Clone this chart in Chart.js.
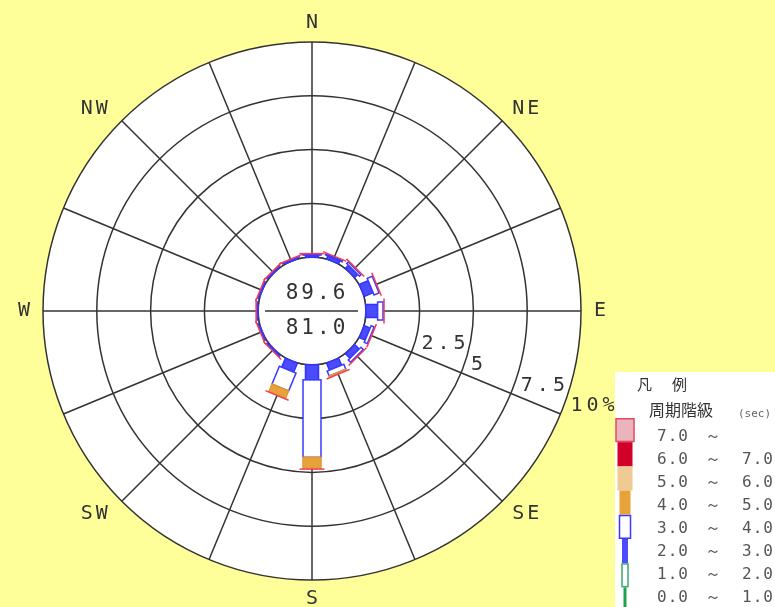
<!DOCTYPE html>
<html>
<head>
<meta charset="utf-8">
<script src="https://cdn.jsdelivr.net/npm/chart.js@4/dist/chart.umd.min.js"></script>
<style>
  html, body { margin: 0; padding: 0; background: #ffff99; }
  canvas { display: block; }
</style>
</head>
<body>
<canvas id="rose" width="775" height="607"></canvas>
<script>
// Sixteen compass directions, clockwise from north
const directions = ['N','NNE','NE','ENE','E','ESE','SE','SSE','S','SSW','SW','WSW','W','WNW','NW','NNW'];
const axisLabels = ['N','','NE','','E','','SE','','S','','SW','','W','','NW',''];

// Frequency (%) of each wave-period class per direction
const period0to1 = [0,0,0,0,0,0,0,0,0,0,0,0,0,0,0,0];
const period1to2 = [0,0,0,0,0,0,0,0,0,0,0,0,0,0,0,0];
const period2to3 = [0.10,0.15,0.20,0.45,0.55,0.30,0.30,0.35,0.70,0.45,0.04,0.04,0.04,0.04,0.04,0.05];
const period3to4 = [0.02,0.05,0.10,0.25,0.25,0.15,0.15,0.25,3.60,0.90,0.02,0.01,0.01,0.01,0.01,0.01];
const period4to5 = [0,0,0,0,0,0,0,0.03,0.50,0.35,0,0,0,0,0,0];
const period5to6 = [0,0,0,0,0,0,0,0,0,0,0,0,0,0,0,0];
const period6to7 = [0,0,0,0,0,0,0,0,0,0,0,0,0,0,0,0];
const period7up  = [0,0,0,0,0,0,0,0,0,0,0,0,0,0,0,0];

// Period class bounds (sec) shown in the legend
const classLow  = ['0.0','1.0','2.0','3.0','4.0','5.0','6.0','7.0'];
const classHigh = ['1.0','2.0','3.0','4.0','5.0','6.0','7.0',''];

// Ring labels (percent)
const ringValues = [2.5, 5, 7.5, 10];
const ringLabels = ['2.5', '5', '7.5', '10%'];

// Figures printed in the calm circle
const centerUpper = '89.6';
const centerLower = '81.0';

const classStyles = [
  { fill: '#1ea24e', stroke: '#1ea24e', width: 4,  legendW: 3  },
  { fill: '#ffffff', stroke: '#3aaa70', width: 9,  legendW: 6  },
  { fill: '#4b4bff', stroke: '#3333ff', width: 13, legendW: 6  },
  { fill: '#ffffff', stroke: '#3a3aff', width: 18, legendW: 11 },
  { fill: '#e8a23a', stroke: '#e39a32', width: 18, legendW: 11 },
  { fill: '#efca92', stroke: '#e8c088', width: 24, legendW: 15 },
  { fill: '#d0002a', stroke: '#c80028', width: 24, legendW: 15 },
  { fill: '#eab4bc', stroke: '#e04a60', width: 28, legendW: 18 }
];
const classData = [period0to1, period1to2, period2to3, period3to4, period4to5, period5to6, period6to7, period7up];

const MONO = '"DejaVu Sans Mono", monospace';
const CJK = '"Noto Sans CJK JP", sans-serif';

const rosePlugin = {
  id: 'rosePlugin',
  beforeDraw(chart) {
    const s = chart.scales.r, ctx = chart.ctx;
    ctx.save();
    ctx.fillStyle = '#ffffff';
    ctx.beginPath();
    ctx.arc(s.xCenter, s.yCenter, s.getDistanceFromCenterForValue(s.max), 0, Math.PI * 2);
    ctx.fill();
    ctx.restore();
  },
  afterDraw(chart) {
    const s = chart.scales.r, ctx = chart.ctx;
    const cx = s.xCenter, cy = s.yCenter;
    const r0 = s.getDistanceFromCenterForValue(0);
    const outer = s.getDistanceFromCenterForValue(s.max);

    // calm circle
    ctx.save();
    ctx.fillStyle = '#ffffff';
    ctx.strokeStyle = '#333333';
    ctx.lineWidth = 1.5;
    ctx.beginPath();
    ctx.arc(cx, cy, r0, 0, Math.PI * 2);
    ctx.fill();
    ctx.stroke();
    ctx.restore();

    // stacked radial bars
    chart.data.labels.forEach((d, i) => {
      const ang = s.getIndexAngle(i) - Math.PI / 2;
      ctx.save();
      ctx.translate(cx, cy);
      ctx.rotate(ang);
      let acc = 0;
      chart.data.datasets.forEach((ds, k) => {
        const v = ds.data[i];
        if (v > 0) {
          const a = s.getDistanceFromCenterForValue(acc);
          const b = s.getDistanceFromCenterForValue(acc + v);
          const st = classStyles[k];
          ctx.fillStyle = st.fill;
          ctx.strokeStyle = st.stroke;
          ctx.lineWidth = 1.5;
          ctx.fillRect(a, -st.width / 2, b - a, st.width);
          ctx.strokeRect(a, -st.width / 2, b - a, st.width);
        }
        acc += v;
      });
      const e = s.getDistanceFromCenterForValue(acc);
      ctx.strokeStyle = '#f03c5a';
      ctx.lineWidth = 1.5;
      ctx.beginPath();
      ctx.moveTo(e + 1, -12.5);
      ctx.lineTo(e + 1, 12.5);
      ctx.stroke();
      ctx.restore();
    });

    // figures inside the calm circle
    ctx.save();
    ctx.strokeStyle = '#333333';
    ctx.lineWidth = 1.5;
    ctx.beginPath();
    ctx.moveTo(cx - 47, cy);
    ctx.lineTo(cx + 46, cy);
    ctx.stroke();
    ctx.fillStyle = '#333333';
    ctx.font = '21px ' + MONO;
    ctx.letterSpacing = '3px';
    ctx.textAlign = 'center';
    ctx.textBaseline = 'middle';
    ctx.fillText(centerUpper, cx + 5, cy - 17);
    ctx.fillText(centerLower, cx + 5, cy + 18);
    ctx.restore();

    // direction labels
    ctx.save();
    ctx.fillStyle = '#333333';
    ctx.font = '20px ' + MONO;
    ctx.letterSpacing = '3px';
    ctx.textAlign = 'center';
    ctx.textBaseline = 'middle';
    axisLabels.forEach((lab, i) => {
      if (!lab) return;
      const diagonal = lab.length === 2;
      const p = s.getPointPosition(i, outer + (diagonal ? 22 : 19));
      let x = p.x + 1.5, y = p.y;
      if (diagonal) {
        x += (p.x > cx ? 8 : -12);
        y += (p.y > cy ? -3 : 4);
      }
      ctx.fillText(lab, x, y);
    });
    ctx.restore();

    // legend panel
    const lx = 615, ly = 372;
    ctx.save();
    ctx.fillStyle = '#ffffff';
    ctx.fillRect(lx, ly, chart.width - lx, chart.height - ly);
    ctx.fillStyle = '#333333';
    ctx.textBaseline = 'middle';
    ctx.font = '15px ' + CJK;
    ctx.fillText('凡', 637, 384);
    ctx.fillText('例', 672, 384);
    ctx.font = '16px ' + CJK;
    ctx.fillText('周期階級', 649, 410);
    ctx.fillStyle = '#666666';
    ctx.font = '11px ' + MONO;
    ctx.fillText('(sec)', 738, 414);
    ctx.font = '16px ' + MONO;
    ctx.letterSpacing = '1px';
    for (let k = 7; k >= 0; k--) {
      const row = 7 - k;
      const ty = 437 + 23 * row;
      ctx.fillStyle = '#555555';
      ctx.fillText(classLow[k], 657, ty);
      ctx.fillText('～', 705, ty);
      if (classHigh[k]) ctx.fillText(classHigh[k], 742, ty);
      const st = classStyles[k];
      const top = 418 + 24.2 * row;
      const h = k === 0 ? 30 : 24.2;
      ctx.fillStyle = st.fill;
      ctx.fillRect(625 - st.legendW / 2, top, st.legendW, h);
      if (st.fill === '#ffffff' || k === 7) {
        ctx.strokeStyle = st.stroke;
        ctx.lineWidth = 1.5;
        ctx.strokeRect(625 - st.legendW / 2, top + 0.75, st.legendW, h - 1.5);
      }
    }
    ctx.restore();

    // ring labels along the ESE spoke
    ctx.save();
    ctx.fillStyle = '#333333';
    ctx.font = '20px ' + MONO;
    ctx.letterSpacing = '4px';
    ctx.textAlign = 'left';
    ctx.textBaseline = 'middle';
    ringValues.forEach((v, j) => {
      const p = s.getPointPosition(5, s.getDistanceFromCenterForValue(v));
      ctx.fillText(ringLabels[j], p.x + 10, p.y - 8);
    });
    ctx.restore();
  }
};

new Chart(document.getElementById('rose'), {
  type: 'radar',
  data: {
    labels: directions,
    datasets: classData.map((arr, k) => ({
      label: classLow[k] + '～' + classHigh[k],
      data: arr,
      showLine: false,
      fill: false,
      borderWidth: 0,
      pointRadius: 0,
      pointHoverRadius: 0,
      pointHitRadius: 0
    }))
  },
  options: {
    responsive: false,
    animation: false,
    events: [],
    layout: { padding: { left: 43, top: 42, right: 194, bottom: 27 } },
    plugins: { legend: { display: false }, tooltip: { enabled: false } },
    scales: {
      r: {
        min: -2.5,
        max: 10,
        startAngle: 0,
        ticks: { display: false, stepSize: 2.5 },
        grid: { circular: true, color: '#333333', lineWidth: 1.5 },
        angleLines: { color: '#333333', lineWidth: 1.5 },
        pointLabels: { display: false }
      }
    }
  },
  plugins: [rosePlugin]
});
</script>
</body>
</html>
